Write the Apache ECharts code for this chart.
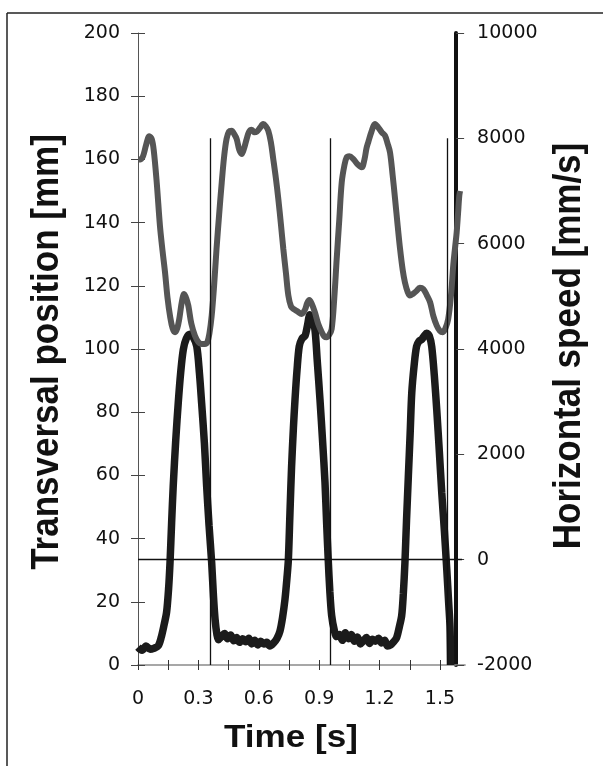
<!DOCTYPE html>
<html><head><meta charset="utf-8">
<script src="https://cdn.jsdelivr.net/npm/echarts@6/dist/echarts.min.js"></script>
<style>html,body{margin:0;padding:0;background:#fff}#c{width:603px;height:766px}</style>
</head><body><div id="c"></div>
<script>
// ---- data ----
const timeTicks = [0,0.15,0.3,0.45,0.6,0.75,0.9,1.05,1.2,1.35,1.5];
const timeLabels = [0,0.3,0.6,0.9,1.2,1.5];
const posTicks = [0,20,40,60,80,100,120,140,160,180,200];
const speedTicks = [-2000,0,2000,4000,6000,8000,10000];
const contactTimes = [0.358, 0.957, 1.538];

const posTime = [0,0.012,0.025,0.04,0.056,0.068,0.078,0.093,0.109,0.122,0.134,0.147,0.159,0.172,0.184,0.195,0.205,0.218,0.229,0.24,0.25,0.265,0.283,0.3,0.316,0.332,0.344,0.355,0.366,0.378,0.39,0.403,0.416,0.428,0.44,0.452,0.465,0.478,0.49,0.503,0.515,0.527,0.54,0.552,0.565,0.578,0.59,0.606,0.622,0.635,0.647,0.66,0.672,0.685,0.697,0.71,0.722,0.735,0.747,0.76,0.772,0.79,0.813,0.83,0.84,0.851,0.862,0.879,0.895,0.913,0.925,0.937,0.95,0.962,0.975,0.987,1.0,1.012,1.025,1.037,1.05,1.07,1.09,1.111,1.125,1.135,1.144,1.16,1.177,1.195,1.212,1.227,1.24,1.252,1.265,1.277,1.29,1.302,1.315,1.326,1.34,1.351,1.367,1.384,1.4,1.417,1.435,1.451,1.467,1.484,1.5,1.514,1.527,1.541,1.555,1.566,1.575,1.583,1.59,1.596,1.6];
const posValues = [160,160,161,164.5,167.3,166.5,163,152.7,139,131,124.4,116,110.5,106.5,105.3,106.5,109.5,115,117.4,116,113.7,108,104.2,102.2,101.6,101.6,102.1,105,110.5,120,131.6,142.5,152.7,161,166.5,168.8,169.1,168,166.5,163,161.7,163.5,166.5,168.8,169.4,168.6,168.8,170,171.2,170.5,169.1,165.5,160.1,154,147.5,139.5,131.6,124,116.9,113.5,112.7,112,111.1,112.5,114.5,115.5,114.5,111.6,108,105.3,104,103.7,104.5,106.3,116,128.5,141,152.7,158,160.7,161,160.1,158.5,157.5,160,163.5,165.5,168.8,171.2,170,168.5,167.5,165,162.2,155,147.5,139,131.6,125,121.1,118,116.9,117.5,118.4,119.4,119,117,114.8,110.5,107.4,105.7,105.3,106.5,109.5,117,126.4,132,136.9,143,148.5,150];

const speedTime = [0,0.02,0.04,0.06,0.08,0.1,0.115,0.13,0.142,0.152,0.159,0.167,0.175,0.188,0.2,0.212,0.225,0.24,0.258,0.275,0.292,0.305,0.316,0.33,0.341,0.353,0.366,0.375,0.383,0.392,0.4,0.415,0.43,0.445,0.46,0.475,0.49,0.505,0.52,0.535,0.55,0.565,0.58,0.595,0.61,0.625,0.64,0.655,0.672,0.69,0.705,0.718,0.73,0.74,0.747,0.755,0.763,0.772,0.78,0.79,0.801,0.815,0.83,0.842,0.854,0.866,0.879,0.89,0.904,0.917,0.929,0.937,0.945,0.953,0.962,0.975,0.987,1.0,1.015,1.03,1.045,1.06,1.075,1.09,1.105,1.12,1.135,1.15,1.165,1.18,1.195,1.21,1.225,1.24,1.255,1.27,1.285,1.298,1.31,1.318,1.326,1.334,1.343,1.352,1.36,1.372,1.384,1.396,1.409,1.422,1.434,1.447,1.459,1.472,1.484,1.497,1.509,1.522,1.534,1.543,1.55,1.553];
const speedValues = [-1660,-1720,-1640,-1700,-1680,-1640,-1480,-1230,-1000,-550,-60,700,1400,2300,2980,3550,3990,4200,4280,4220,4050,3550,2980,2200,1400,650,-60,-700,-1140,-1420,-1520,-1460,-1400,-1500,-1430,-1540,-1480,-1570,-1500,-1560,-1490,-1600,-1530,-1620,-1550,-1600,-1570,-1640,-1590,-1500,-1360,-1100,-760,-350,0,900,1770,2500,3040,3600,4050,4200,4250,4450,4650,4550,4370,3800,3040,2250,1460,700,0,-600,-1060,-1340,-1460,-1420,-1530,-1390,-1500,-1420,-1550,-1470,-1600,-1540,-1480,-1590,-1510,-1550,-1490,-1580,-1530,-1640,-1620,-1560,-1480,-1280,-1060,-650,-60,750,1580,2400,3170,3700,4050,4150,4180,4250,4300,4250,4050,3500,2850,2050,1270,550,-190,-800,-1270,-2000];

// ---- chart ----
const zip = (a, b) => a.map((v, i) => [v, b[i]]);
const chart = echarts.init(document.getElementById('c'), null, {renderer: 'canvas'});
const labelFont = {fontFamily: 'DejaVu Sans', fontSize: 19, color: '#111', formatter: v => String(v)};
const xMax = 1.625;

const markData = [[{coord: [0, 0]}, {coord: [1.61, 0]}]];
contactTimes.forEach(t => markData.push([{coord: [t, 8000]}, {coord: [t, -2000]}]));

chart.setOption({
  animation: false,
  backgroundColor: '#fff',
  grid: {left: 138, top: 33, bottom: 101, width: xMax * 201.3, containLabel: false},
  xAxis: [
    {type: 'value', min: 0, max: xMax, position: 'bottom',
     axisLine: {onZero: false, lineStyle: {color: '#8a8a8a', width: 1.5}},
     axisTick: {show: true, length: 5, customValues: timeTicks, lineStyle: {color: '#333', width: 1}},
     axisLabel: Object.assign({margin: 25, customValues: timeLabels}, labelFont),
     splitLine: {show: false}},
    {type: 'value', min: 0, max: xMax, position: 'bottom',
     axisLine: {show: false, onZero: false},
     axisTick: {show: true, inside: true, length: 5, customValues: timeTicks, lineStyle: {color: '#333', width: 1}},
     axisLabel: {show: false}, splitLine: {show: false}}
  ],
  yAxis: [
    {type: 'value', min: 0, max: 200, interval: 20, position: 'left',
     axisLine: {show: true, onZero: false, lineStyle: {color: '#555', width: 1}},
     axisTick: {show: true, length: 7, lineStyle: {color: '#444', width: 1}},
     axisLabel: Object.assign({margin: 18}, labelFont),
     splitLine: {show: false}},
    {type: 'value', min: -2000, max: 10000, interval: 2000, position: 'right', offset: -9,
     axisLine: {show: true, onZero: false, lineStyle: {color: '#111', width: 4}},
     axisTick: {show: true, length: 8, lineStyle: {color: '#444', width: 1}},
     axisLabel: Object.assign({margin: 21}, labelFont),
     splitLine: {show: false}},
    {type: 'value', min: 0, max: 200, interval: 20, position: 'left',
     axisLine: {show: false, onZero: false},
     axisTick: {show: true, inside: true, length: 7, lineStyle: {color: '#444', width: 1}},
     axisLabel: {show: false}, splitLine: {show: false}}
  ],
  series: [
    {name: 'Horizontal speed', type: 'line', xAxisIndex: 0, yAxisIndex: 1,
     data: zip(speedTime, speedValues), showSymbol: false, symbol: 'none', smooth: 0.3,
     lineStyle: {color: '#1b1b1b', width: 7.5}, z: 3,
     markLine: {silent: true, symbol: ['none', 'none'], label: {show: false},
       lineStyle: {color: '#111', width: 1.3, type: 'solid'}, data: markData}},
    {name: 'Transversal position', type: 'line', xAxisIndex: 0, yAxisIndex: 0,
     data: zip(posTime, posValues), showSymbol: false, symbol: 'none', smooth: 0.35,
     lineStyle: {color: '#555555', width: 6}, z: 4}
  ],
  graphic: [
    {type: 'line', shape: {x1: 7, y1: 13, x2: 603, y2: 13}, style: {stroke: '#222', lineWidth: 1.5}},
    {type: 'line', shape: {x1: 7, y1: 13, x2: 7, y2: 766}, style: {stroke: '#222', lineWidth: 1.5}},
    {type: 'text', x: 47, y: 352, rotation: Math.PI / 2, scaleY: 1.13,
     style: {text: 'Transversal position [mm]', font: 'bold 35px "Liberation Sans"', fill: '#111', textAlign: 'center', textVerticalAlign: 'middle'}},
    {type: 'text', x: 569, y: 346, rotation: Math.PI / 2, scaleY: 1.13,
     style: {text: 'Horizontal speed [mm/s]', font: 'bold 35px "Liberation Sans"', fill: '#111', textAlign: 'center', textVerticalAlign: 'middle'}},
    {type: 'text', x: 291, y: 739, scaleX: 1.15,
     style: {text: 'Time [s]', font: 'bold 30.5px "Liberation Sans"', fill: '#111', textAlign: 'center', textVerticalAlign: 'middle'}}
  ]
});
</script></body></html>
